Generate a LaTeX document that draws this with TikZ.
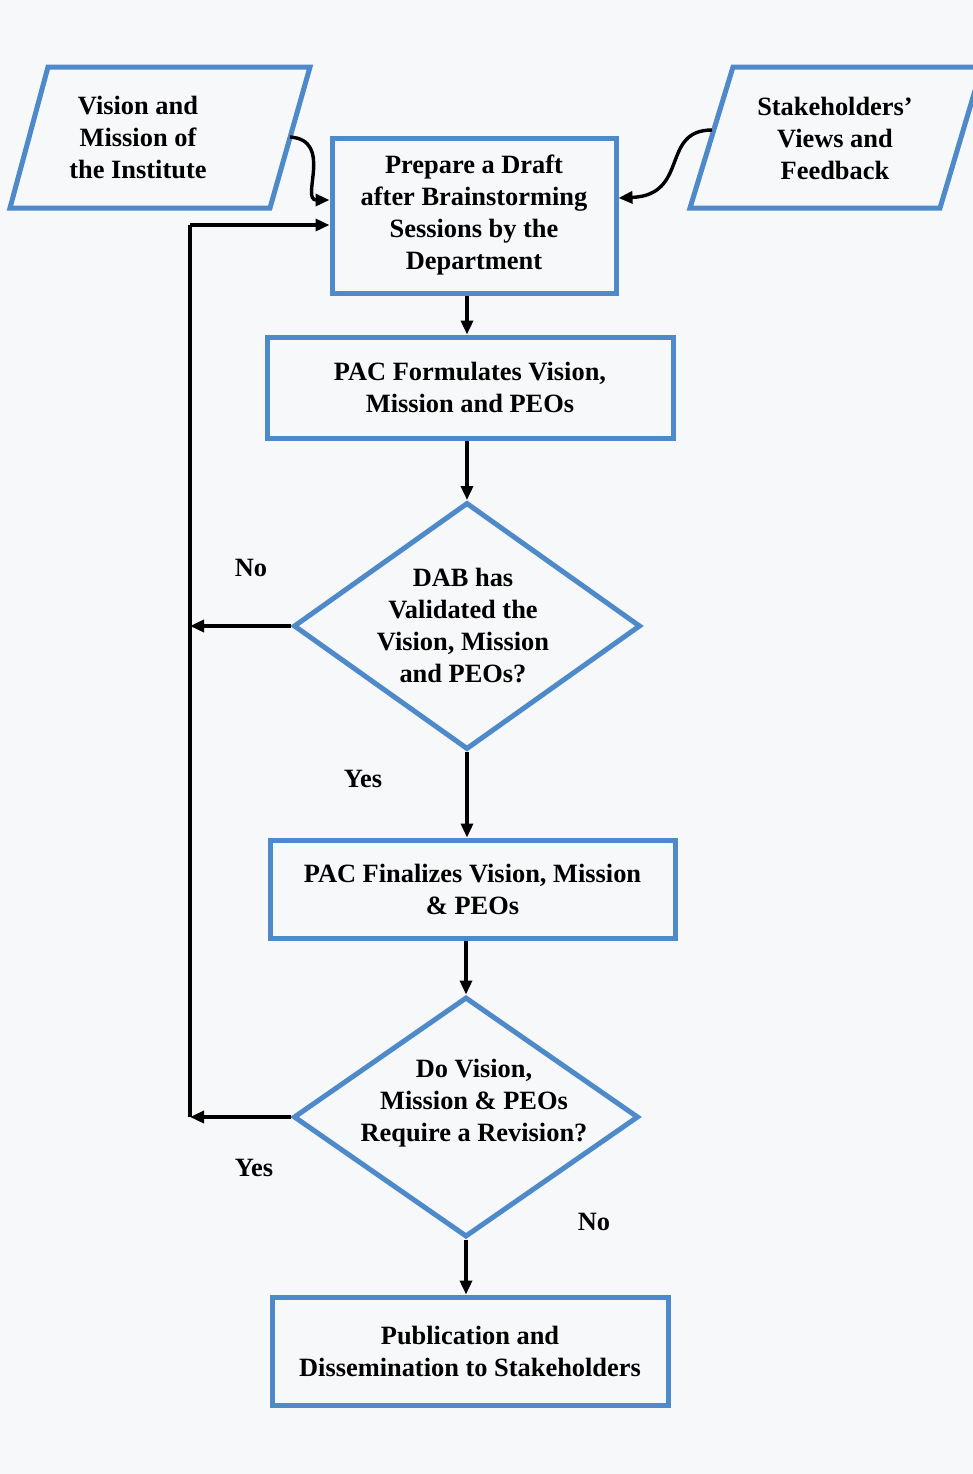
\documentclass[tikz,border=0pt]{standalone}
\usepackage{fontspec}
\setmainfont{Liberation Serif}
\usetikzlibrary{arrows.meta,shapes.geometric}
\definecolor{edgeblue}{RGB}{78,138,202}
\definecolor{paper}{RGB}{247,248,250}
\tikzset{
  txt/.style={font=\bfseries\fontsize{13.2}{16}\selectfont, align=center, text=black},
  stepbox/.style={txt, draw=edgeblue, line width=2.5pt, rectangle, inner sep=0pt},
  decision/.style={draw=edgeblue, line width=2.5pt, diamond, inner sep=0pt},
  iobox/.style={draw=edgeblue, line width=2.5pt, line join=miter},
  arr/.style={draw=black, line width=1.7pt, -{Triangle[length=7pt,width=6pt]}},
  plainline/.style={draw=black, line width=1.7pt},
  lbl/.style={txt}
}
\begin{document}
\begin{tikzpicture}[x=0.5pt, y=-0.5pt]
  % page
  \useasboundingbox (0,0) rectangle (973,1474);
  \fill[paper] (0,0) rectangle (973,1474);

  % input parallelograms
  \draw[iobox] (48,67) -- (310,67) -- (270,208) -- (10,208) -- cycle;
  \node[txt] (vm) at (138,137) {Vision and\\Mission of\\the Institute};
  \coordinate (vmout) at (290,137);

  \draw[iobox] (733,67) -- (982,67) -- (940,208) -- (690,208) -- cycle;
  \node[txt] (sh) at (835,138) {Stakeholders’\\Views and\\Feedback};
  \coordinate (shout) at (712,130);

  % process steps
  \node[stepbox, minimum width=142pt, minimum height=77.5pt] (draft) at (474,215.5)
    {Prepare a Draft\\after Brainstorming\\Sessions by the\\Department};
  \node[stepbox, minimum width=203pt, minimum height=50.5pt] (pac) at (470,387.5)
    {PAC Formulates Vision,\\Mission and PEOs};
  \node[decision, minimum width=173.5pt, minimum height=123.5pt] (dab) at (467,626) {};
  \node[txt] (dabtext) at (463,626) {DAB has\\Validated the\\Vision, Mission\\and PEOs?};
  \node[stepbox, minimum width=202.5pt, minimum height=49pt] (fin) at (472.5,889)
    {PAC Finalizes Vision, Mission\\\& PEOs};
  \node[decision, minimum width=172.5pt, minimum height=120pt] (rev) at (466,1117) {};
  \node[txt] (revtext) at (474,1103) {Do Vision,\\Mission \& PEOs\\Require a Revision?};
  \node[stepbox, minimum width=198pt, minimum height=54pt] (pub) at (470,1351)
    {Publication and\\Dissemination to Stakeholders};

  % inputs into the draft
  \draw[arr] (vmout) .. controls (334,140) and (300,200) .. ([yshift=7.75pt]draft.west);
  \draw[arr] (shout) .. controls (660,130) and (690,195) .. ([yshift=8.75pt]draft.east);

  % main flow
  \draw[arr] (draft.south -| dab.north) -- (pac.north -| dab.north);
  \draw[arr] (pac.south -| dab.north) -- (dab.north);
  \draw[arr] (dab.south) -- (fin.north -| dab.south);
  \draw[arr] (fin.south -| rev.north) -- (rev.north);
  \draw[arr] (rev.south) -- (pub.north -| rev.south);

  % revision loop
  \coordinate (loop) at (190,225);
  \draw[arr] (dab.west) -- (dab.west -| loop);
  \draw[arr] (rev.west) -- (rev.west -| loop);
  \draw[plainline] (loop |- rev.west) -- (loop);
  \draw[arr] (loop) -- (loop -| draft.west);

  % branch labels
  \node[lbl] (no1) at (251,568) {No};
  \node[lbl] (yes1) at (363,779) {Yes};
  \node[lbl] (yes2) at (254,1168) {Yes};
  \node[lbl] (no2) at (594,1222) {No};
\end{tikzpicture}
\end{document}
